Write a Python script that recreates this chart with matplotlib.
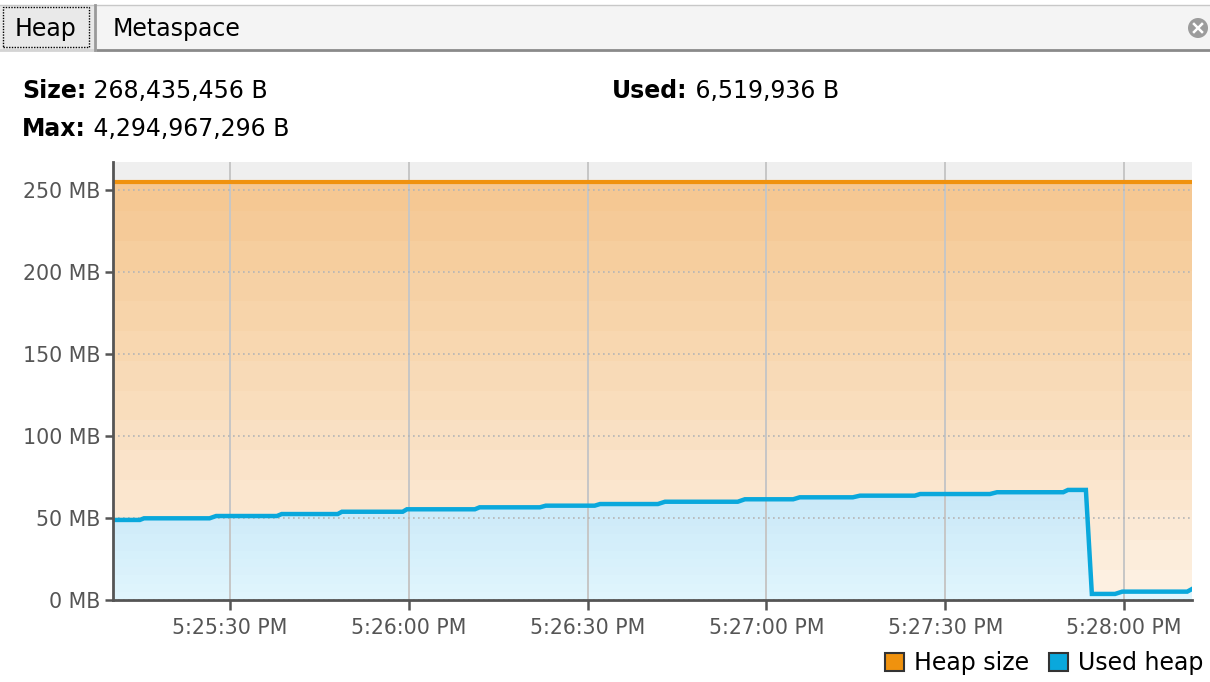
"""Heap memory monitor chart (Heap tab)."""

import matplotlib

matplotlib.use("Agg")
import matplotlib.pyplot as plt
import numpy as np
from matplotlib.colors import LinearSegmentedColormap
from matplotlib.lines import Line2D
from matplotlib.patches import Ellipse, Patch, PathPatch, Rectangle
from matplotlib.ticker import FuncFormatter

# seconds after 5:25:00 PM
used_t = [10.4, 14.9, 15.6, 26.6, 27.7, 37.9, 38.7, 48.1, 48.8, 59.0, 59.7,
          71.1, 71.9, 82.0, 83.0, 91.2, 92.1, 101.8, 103.0, 115.2, 116.4,
          124.5, 125.6, 134.5, 135.7, 144.9, 145.8, 157.5, 158.7, 169.8,
          170.6, 173.6, 174.6, 178.5, 179.7, 190.6, 191.4]
used_mb = [48.8, 48.8, 49.8, 49.8, 51.2, 51.2, 52.4, 52.4, 53.8, 53.8, 55.3,
           55.3, 56.5, 56.5, 57.5, 57.5, 58.5, 58.5, 59.9, 59.9, 61.4,
           61.4, 62.6, 62.6, 63.6, 63.6, 64.6, 64.6, 65.7, 65.7,
           67.1, 67.1, 3.7, 3.7, 5.1, 5.1, 6.7]
heap_t = [10.4, 191.4]
heap_mb = [255, 255]

y_ticks = [0, 50, 100, 150, 200, 250]
x_ticks = [30, 60, 90, 120, 150, 180]

info = [("Size:", "268,435,456 B", 22, 91),
        ("Used:", "6,519,936 B", 612, 91),
        ("Max:", "4,294,967,296 B", 22, 129)]
tabs = ["Heap", "Metaspace"]

W, H = 1210, 682
ORANGE = "#f0920e"
BLUE = "#0aa8dc"
AXC = "#555555"


def fx(x):
    return x / W


def fy(y):
    return 1 - y / H


def time_label(s, _pos=None):
    s = int(round(s))
    return f"5:{25 + s // 60}:{s % 60:02d} PM"


def gradient_fill(ax, x, y, c_bottom, c_top, top, z):
    poly = ax.fill_between(x, 0, y, facecolor="none", edgecolor="none")
    clip = PathPatch(poly.get_paths()[0], transform=ax.transData,
                     facecolor="none", edgecolor="none")
    ax.add_patch(clip)
    cmap = LinearSegmentedColormap.from_list("g", [c_bottom, c_top])
    grad = np.linspace(0, 1, 14).reshape(-1, 1)
    im = ax.imshow(grad, cmap=cmap, aspect="auto", origin="lower",
                   extent=[min(x), max(x), 0, top], interpolation="nearest",
                   zorder=z)
    im.set_clip_path(clip)


fig = plt.figure(figsize=(12.1, 6.82), dpi=100)
fig.patch.set_facecolor("white")
ax = fig.add_axes([fx(113), fy(600), fx(1192) - fx(113), fy(162) - fy(600)])

# tab bar
fig.add_artist(Rectangle((0, fy(50)), 1, fy(5) - fy(50), transform=fig.transFigure,
                         facecolor="#f4f4f4", edgecolor="none"))
fig.add_artist(Rectangle((0, fy(50)), fx(94), fy(5) - fy(50), transform=fig.transFigure,
                         facecolor="#e9e9e9", edgecolor="none"))
fig.add_artist(Line2D([0, 1], [fy(4.5), fy(4.5)], transform=fig.transFigure,
                      color="#c8c8c8", lw=1))
fig.add_artist(Line2D([fx(95), 1], [fy(50), fy(50)], transform=fig.transFigure,
                      color="#8a8a8a", lw=2))
fig.add_artist(Line2D([0, fx(95)], [fy(50), fy(50)], transform=fig.transFigure,
                      color="#d4d4d4", lw=2))
fig.add_artist(Line2D([fx(94.5), fx(94.5)], [fy(5), fy(50)], transform=fig.transFigure,
                      color="#9a9a9a", lw=2))
fig.add_artist(Rectangle((fx(3), fy(47)), fx(86), fy(7) - fy(47),
                         transform=fig.transFigure, facecolor="none",
                         edgecolor="black", lw=1, linestyle=(0, (1, 1))))
fig.text(fx(46), fy(29), tabs[0], ha="center", va="center", fontsize=17, color="black")
fig.text(fx(113), fy(29), tabs[1], ha="left", va="center", fontsize=17, color="black")
fig.add_artist(Ellipse((fx(1198), fy(28)), 20 / W, 20 / H, transform=fig.transFigure,
                       facecolor="#9c9c9c", edgecolor="none"))
for d in (-1, 1):
    fig.add_artist(Line2D([fx(1194), fx(1202)], [fy(28 - 4 * d), fy(28 + 4 * d)],
                          transform=fig.transFigure, color="white", lw=1.8))

# header values: bold label, then the value right after it
for label, value, x, y in info:
    t = fig.text(fx(x), fy(y), label, ha="left", va="center",
                 fontsize=17, fontweight="bold", color="black")
    ax.annotate(" " + value, xy=(1, 0.5), xycoords=t, ha="left", va="center",
                fontsize=17, color="black", annotation_clip=False)

ax.set_facecolor("#efefef")

gradient_fill(ax, heap_t, heap_mb, "#fdf0e1", "#f5c893", 255, 1)
gradient_fill(ax, used_t, used_mb, "#e0f5fd", "#c8e8f8", 70, 1.1)

ax.plot(heap_t, heap_mb, color=ORANGE, lw=3, zorder=3, solid_capstyle="butt")
ax.plot(used_t, used_mb, color=BLUE, lw=3.2, zorder=3, solid_joinstyle="miter")

ax.set_xlim(heap_t[0], heap_t[-1])
ax.set_ylim(0, 267)
ax.set_yticks(y_ticks)
ax.set_yticklabels([f"{v} MB" for v in y_ticks])
ax.set_xticks(x_ticks)
ax.xaxis.set_major_formatter(FuncFormatter(time_label))

ax.set_axisbelow("line")
ax.xaxis.grid(True, color="#c6c6c6", lw=1.4, linestyle="-")
ax.yaxis.grid(True, color="#b5b5b5", lw=1.2, linestyle=(0, (1, 2)))

for side in ("top", "right"):
    ax.spines[side].set_visible(False)
for side in ("left", "bottom"):
    ax.spines[side].set_color(AXC)
    ax.spines[side].set_linewidth(2)
    ax.spines[side].set_zorder(4)
ax.tick_params(axis="y", length=6, width=1.8, color=AXC, labelcolor=AXC,
               labelsize=14.8, pad=3)
ax.tick_params(axis="x", length=7, width=1.8, color=AXC, labelcolor=AXC,
               labelsize=14.8, pad=6)

handles = [Patch(facecolor=ORANGE, edgecolor="#333333", lw=1.5, label="Heap size"),
           Patch(facecolor=BLUE, edgecolor="#333333", lw=1.5, label="Used heap")]
fig.legend(handles=handles, loc="center right", bbox_to_anchor=(fx(1203), fy(663)),
           ncol=2, frameon=False, fontsize=17, handlelength=0.82, handleheight=0.82,
           handletextpad=0.4, columnspacing=0.85, borderpad=0, borderaxespad=0)

fig.savefig("out.png", dpi=100)
